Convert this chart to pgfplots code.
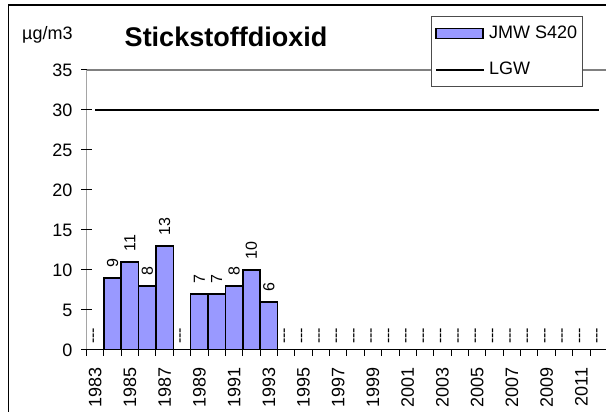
\documentclass[border=0pt]{standalone}
\usepackage{pgfplots}
\pgfplotsset{compat=1.18}
\usepackage{fontspec}
\setmainfont{Liberation Sans}

\definecolor{barblue}{RGB}{153,153,255}
\definecolor{topgray}{RGB}{128,128,128}

% same geometry for the three overlaid axes (1pt = 1px of the reference)
\pgfplotsset{
  base/.style={
    at={(86.5pt,62pt)}, anchor=south west,
    scale only axis, width=520.9pt, height=280pt,
    xmin=1982.5, xmax=2012.5, ymin=0, ymax=35,
    axis line style={draw=none},
    /pgf/number format/assume math mode=true,
    /pgf/number format/1000 sep={},
    tick label style={font=\fontsize{18}{21}\selectfont},
    tick style={black, line width=1pt},
  },
  barlegend/.style={legend image code/.code={\draw[##1] (0pt,-5pt) rectangle (47pt,5pt);}},
  linelegend/.style={legend image code/.code={\draw[##1] (0pt,0pt) -- (48pt,0pt);}},
}

\begin{document}
\begin{tikzpicture}[x=1pt,y=1pt]
\useasboundingbox (0,0) rectangle (606,412);
\clip (0,0) rectangle (606,412);
\draw[line width=1.5pt] (8.3,-10) -- (8.3,407) -- (620,407);
\node[anchor=base west, inner sep=0pt, font=\fontsize{18}{20}\selectfont] at (22,372) {µg/m3};
\node[anchor=base, inner sep=0pt, font=\fontsize{27}{30}\selectfont\bfseries] at (226,365.5) {Stickstoffdioxid};

% y ticks and axis lines
\begin{axis}[base,
  xtick=\empty,
  ytick={0,5,...,35},
  tick align=center, major tick length=11pt,
  ytick pos=left,
  yticklabel style={xshift=-5pt},
]
\draw[topgray, line width=1.5pt] (rel axis cs:0,1) -- (rel axis cs:1,1);
\draw[black, line width=1.5pt] (rel axis cs:0,0) -- (rel axis cs:1,0);
\draw[black, line width=1.5pt] (rel axis cs:0,0) -- (rel axis cs:0,1);
\end{axis}

% category boundary ticks
\begin{axis}[base,
  ytick=\empty,
  xtick={1982.5,1983.5,...,2012.5},
  xticklabels={},
  tick align=outside, major tick length=6pt,
  xtick pos=left,
]
\end{axis}

% data, year labels, legend
\begin{axis}[base,
  ytick=\empty,
  xtick={1983,1985,...,2011},
  major tick length=0pt,
  xticklabel style={rotate=90, anchor=east},
  xticklabel shift=14pt,
  legend style={at={(0.661,1.192)}, anchor=north west,
    draw=black!70, fill=white, line width=0.8pt,
    font=\fontsize{18}{20}\selectfont,
    inner xsep=4pt, inner ysep=8pt, row sep=18pt, column sep=3pt,
    nodes={inner sep=1pt, text height=13pt, text depth=3pt}},
  legend cell align=left,
]
\addplot[ybar, bar width=1, fill=barblue, draw=black, line width=1.5pt,
  nodes near coords,
  every node near coord/.append style={rotate=90, anchor=west,
    font=\fontsize{16}{18}\selectfont, inner xsep=10pt, inner ysep=0pt},
  barlegend]
  coordinates {(1984,9) (1985,11) (1986,8) (1987,13) (1989,7) (1990,7) (1991,8) (1992,10) (1993,6)};
\addlegendentry{JMW S420}
\addplot[black, line width=2pt, mark=none, linelegend]
  coordinates {(1983,30) (2012,30)};
\addlegendentry{LGW}
% years without data
\addplot[draw=none, mark=none, forget plot,
  nodes near coords={-{}-{}-},
  every node near coord/.append style={rotate=90, anchor=west,
    font=\fontsize{16}{18}\selectfont, inner xsep=6pt, inner ysep=0pt}]
  coordinates {(1983,0) (1988,0) (1994,0) (1995,0) (1996,0) (1997,0) (1998,0) (1999,0)
    (2000,0) (2001,0) (2002,0) (2003,0) (2004,0) (2005,0) (2006,0) (2007,0)
    (2008,0) (2009,0) (2010,0) (2011,0) (2012,0)};
\end{axis}
\end{tikzpicture}
\end{document}
